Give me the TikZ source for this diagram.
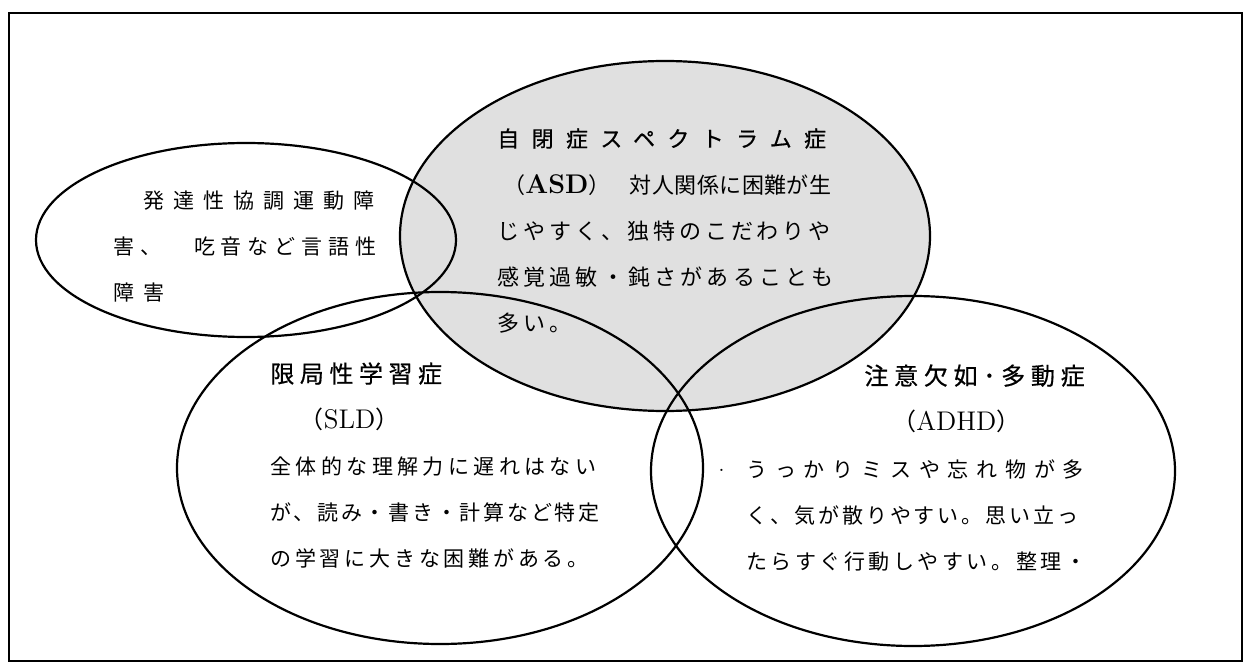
\documentclass[tikz,border=0pt]{standalone}
\usepackage{fontspec}
\newfontfamily\jp{Noto Sans CJK JP}
\newcommand\trk[1]{\addfontfeature{LetterSpace=#1}}
\newcommand\heavy{\addfontfeature{FakeBold=0.6}}
\newcommand\lat[1]{{\rmfamily\fontsize{13.5}{23}\selectfont #1}}
\tikzset{
  venn/.style={line width=1.1pt},
  blurb/.style={inner sep=0pt,anchor=north west,align=left},
}
\begin{document}
\begin{tikzpicture}[x=0.5pt,y=-0.5pt]
\useasboundingbox (0,0) rectangle (1246,663);
\draw[line width=1pt] (9,13) rectangle (1242,661);
% centres of the four sets
\coordinate (asd) at (665,236);
\coordinate (dcd) at (246,240);
\coordinate (sld) at (440,468);
\coordinate (adhd) at (913,471);
\fill[black!12] (asd) ellipse [x radius=265,y radius=175];
\draw[venn] (asd) ellipse [x radius=265,y radius=175];
\draw[venn] (dcd) ellipse [x radius=210,y radius=97];
\draw[venn] (sld) ellipse [x radius=263,y radius=176];
\draw[venn] (adhd) ellipse [x radius=262,y radius=175];
% texts
\node[blurb,font=\jp\fontsize{11}{23.1}\selectfont] (asdtxt) at (497,128) {%
{\heavy\trk{56}自閉症スペクトラム症}\\
\hbox to 167pt{\hspace{3pt}（\lat{\bfseries ASD}）\hfil{\trk{2}対人関係に困難が生}}\\
{\trk{18}じやすく、独特のこだわりや}\\
{\trk{19}感覚過敏・鈍さがあることも}\\
{\trk{19}多い。}};
\node[blurb,font=\jp\fontsize{10.5}{23}\selectfont] (dcdtxt) at (113,190) {%
{\trk{43}　発達性協調運動障}\\
{\trk{28}害、　吃音など言語性}\\
{\trk{43}障害}};
\node[blurb,font=\jp\fontsize{10.5}{23}\selectfont] (sldtxt) at (270,362) {%
{\fontsize{12}{23}\selectfont\heavy\trk{23}限局性学習症}\\
{\fontsize{12}{23}\selectfont\trk{23}　（\lat{SLD}）}\\
{\trk{21}全体的な理解力に遅れはない}\\
{\trk{13}が、読み・書き・計算など特定}\\
{\trk{18}の学習に大きな困難がある。}};
\node[blurb,font=\jp\fontsize{10.5}{23.1}\selectfont] (adhdtxt) at (746,364) {%
\hspace*{59pt}{\fontsize{12}{23}\selectfont\heavy\trk{24}注意欠如･多動症}\\
\hspace*{73pt}{\fontsize{12}{23}\selectfont （\lat{ADHD}）}\\
\llap{\raisebox{3pt}{\rmfamily .}\hspace{11pt}}{\trk{37}うっかりミスや忘れ物が多}\\
{\trk{14}く、気が散りやすい。思い立っ}\\
{\trk{17}たらすぐ行動しやすい。整理・}};
\end{tikzpicture}
\end{document}
